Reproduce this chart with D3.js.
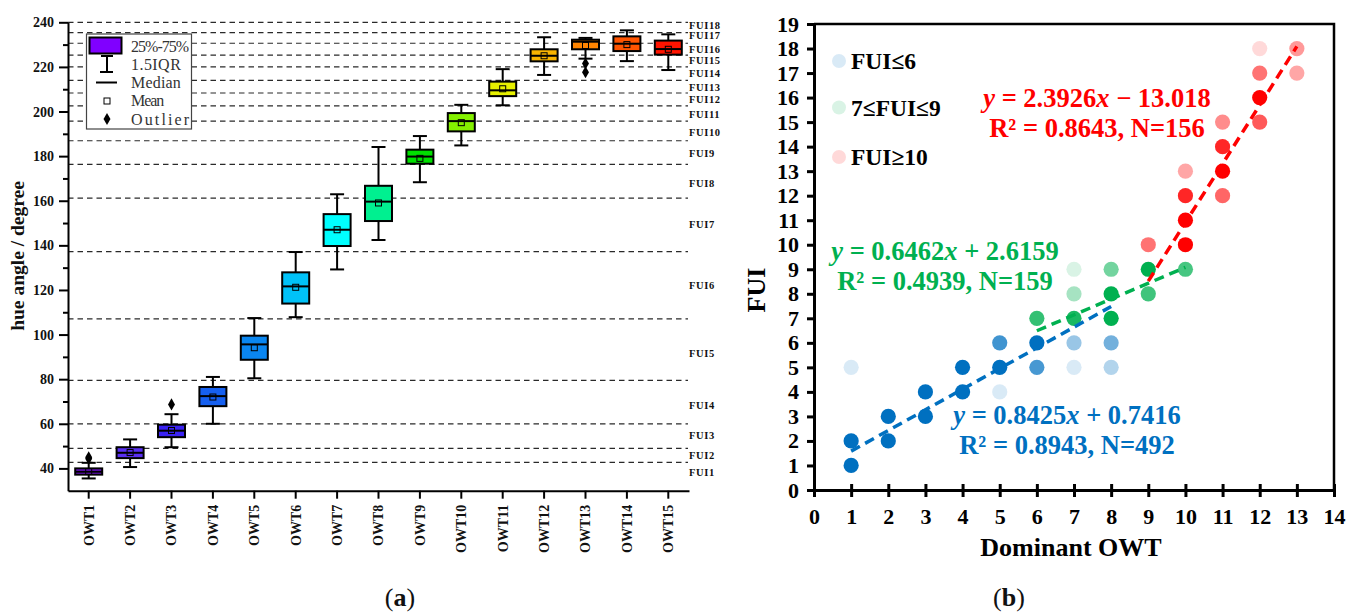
<!DOCTYPE html>
<html>
<head>
<meta charset="utf-8">
<script src="https://cdn.jsdelivr.net/npm/d3@7"></script>
<style>
  html, body { margin: 0; padding: 0; background: #fff; }
  svg { display: block; }
  text { font-family: "Liberation Serif", "Times New Roman", serif; }
</style>
</head>
<body>
<svg id="chart" width="1359" height="614"></svg>
<script>
// ---------- (a) hue angle by optical water type ----------
const owtTypes = ["OWT1","OWT2","OWT3","OWT4","OWT5","OWT6","OWT7","OWT8","OWT9","OWT10","OWT11","OWT12","OWT13","OWT14","OWT15"];
const whiskerLow  = [35.5, 40.6, 49.5, 60.0, 80.4, 107.8, 129.2, 142.4, 168.3, 184.8, 202.8, 216.4, 223.7, 222.6, 218.6];
const q1          = [37.2, 44.6, 54.0, 67.9, 88.7, 113.9, 139.7, 150.9, 176.6, 191.1, 206.9, 222.5, 227.9, 227.1, 225.5];
const medians     = [38.5, 47.0, 56.9, 72.4, 95.6, 121.6, 147.0, 159.6, 179.8, 195.7, 209.5, 225.0, 231.3, 230.4, 228.0];
const q3          = [40.0, 49.5, 59.6, 76.5, 99.5, 127.9, 154.0, 166.7, 182.9, 199.3, 213.4, 227.9, 232.2, 233.7, 231.8];
const whiskerHigh = [42.5, 53.0, 64.3, 81.0, 107.4, 137.0, 162.9, 184.1, 189.0, 203.0, 219.0, 233.3, 233.0, 236.4, 234.6];
const means       = [38.6, 47.1, 57.0, 72.0, 94.1, 121.2, 147.0, 159.0, 179.0, 195.0, 210.2, 225.0, 229.6, 230.0, 227.9];
const outliers    = [[44.3, 45.0], [], [68.7], [], [], [], [], [], [], [], [], [], [221.5, 217.6], [], []];
const boxColors   = ["#7412de","#5a2ff2","#3a22f2","#1660f0","#0a86f0","#00c2f8","#00ffff","#00f090","#00e000","#84f000","#e6f000","#f8b400","#ff8400","#ff5400","#ff1400"];

// FUI class boundaries (hue angle) and label positions
const fuiBounds   = [42.7, 49.0, 60.0, 79.5, 107.0, 137.2, 161.2, 176.3, 186.9, 195.7, 202.5, 208.3, 214.0, 220.0, 225.3, 230.6, 235.4, 240.0];
const fuiLabels   = ["FUI1","FUI2","FUI3","FUI4","FUI5","FUI6","FUI7","FUI8","FUI9","FUI10","FUI11","FUI12","FUI13","FUI14","FUI15","FUI16","FUI17","FUI18"];
const fuiLabelHue = [38.2, 45.8, 54.8, 68.3, 91.6, 122.1, 149.4, 167.8, 181.3, 190.7, 198.7, 205.5, 210.9, 217.1, 223.0, 227.9, 234.2, 238.7];

const hueTicks = [40, 60, 80, 100, 120, 140, 160, 180, 200, 220, 240];
const hueMinorTicks = [50, 70, 90, 110, 130, 150, 170, 190, 210, 230];

// ---------- (b) FUI vs dominant OWT ----------
const blueX = [1, 1, 1, 2, 2, 3, 3, 4, 4, 5, 5, 5, 6, 6, 7, 7, 8, 8];
const blueY = [1, 2, 5, 2, 3, 3, 4, 4, 5, 4, 5, 6, 5, 6, 5, 6, 5, 6];
const blueA = [1, 1, 0.15, 1, 1, 1, 1, 1, 1, 0.15, 1, 0.75, 0.72, 1, 0.15, 0.4, 0.3, 0.55];

const greenX = [6, 7, 7, 7, 8, 8, 8, 9, 9, 10];
const greenY = [7, 7, 8, 9, 7, 8, 9, 8, 9, 9];
const greenA = [0.8, 0.9, 0.35, 0.15, 1, 1, 0.55, 0.75, 1, 0.72];

const redX = [9, 10, 10, 10, 10, 11, 11, 11, 11, 12, 12, 12, 12, 13, 13];
const redY = [10, 10, 11, 12, 13, 12, 13, 14, 15, 15, 16, 17, 18, 17, 18];
const redA = [0.55, 1, 1, 0.85, 0.35, 0.6, 1, 0.85, 0.45, 0.65, 1, 0.55, 0.15, 0.35, 0.4];

// regression fits: slope, intercept, x-range
const fitBlue  = { slope: 0.8425, intercept: 0.7416,  x0: 1, x1: 8 };
const fitGreen = { slope: 0.6462, intercept: 2.6159,  x0: 6, x1: 10 };
const fitRed   = { slope: 2.3926, intercept: -13.018, x0: 9, x1: 13 };

const fuiTicks = d3.range(0, 20);
const owtTicks = d3.range(0, 15);

const BLUE = "#0070C0", GREEN = "#00B050", RED = "#FF0000";

const svg = d3.select("#chart");

// =============== panel (a) ===============
const A = { left: 68, right: 689, top: 22.3, bottom: 490.7 };
const yA = d3.scaleLinear().domain([30, 240]).range([A.bottom, A.top]);
const xA = d3.scaleBand().domain(owtTypes).range([A.left, A.right]);
const cx = d => xA(d) + xA.bandwidth() / 2;
const boxW = 27, capW = 14;

const gA = svg.append("g");

// FUI boundary lines
gA.append("g").selectAll("line").data(fuiBounds).join("line")
  .attr("x1", A.left).attr("x2", 688)
  .attr("y1", d => yA(d)).attr("y2", d => yA(d))
  .attr("stroke", "#2a2a2a").attr("stroke-width", 1.2)
  .attr("stroke-dasharray", "5.5,4");

// FUI labels
gA.append("g").selectAll("text").data(fuiLabels).join("text")
  .attr("x", 689).attr("y", (d, i) => yA(fuiLabelHue[i]))
  .attr("dy", "0.35em")
  .attr("font-size", 10.5).attr("font-weight", "bold").attr("fill", "#111")
  .attr("letter-spacing", 0.6)
  .text(d => d);

// axes
const yAxisA = gA.append("g").attr("transform", `translate(${A.left},0)`)
  .call(d3.axisLeft(yA).tickValues(hueTicks).tickSize(9).tickSizeOuter(0).tickPadding(5));
gA.append("g").attr("transform", `translate(${A.left},0)`)
  .call(d3.axisLeft(yA).tickValues(hueMinorTicks).tickSize(5).tickSizeOuter(0).tickFormat(""))
  .call(g => g.select(".domain").remove());
yAxisA.selectAll("text").attr("font-size", 14).attr("font-weight", "bold")
  .attr("font-family", "Liberation Serif, serif").attr("fill", "#111");

const xAxisA = gA.append("g").attr("transform", `translate(0,${A.bottom})`)
  .call(d3.axisBottom(xA).tickSize(8).tickSizeOuter(0));
xAxisA.selectAll("text")
  .attr("transform", "rotate(-90)")
  .attr("x", -14).attr("y", 0).attr("dy", "0.35em")
  .style("text-anchor", "end")
  .attr("font-size", 14).attr("font-weight", "bold")
  .attr("font-family", "Liberation Serif, serif").attr("fill", "#111");

gA.selectAll(".domain, .tick line").attr("stroke", "#000").attr("stroke-width", 2);

// y-axis title
gA.append("text")
  .attr("transform", `translate(24,256) rotate(-90)`)
  .attr("text-anchor", "middle")
  .attr("font-size", 19.5).attr("font-weight", "bold").attr("fill", "#111")
  .text("hue angle / degree");

// boxes
const boxes = gA.append("g").selectAll("g").data(owtTypes).join("g");
boxes.append("line") // whisker stem
  .attr("x1", cx).attr("x2", cx)
  .attr("y1", (d, i) => yA(whiskerLow[i])).attr("y2", (d, i) => yA(whiskerHigh[i]))
  .attr("stroke", "#000").attr("stroke-width", 2);
boxes.append("line")
  .attr("x1", d => cx(d) - capW / 2).attr("x2", d => cx(d) + capW / 2)
  .attr("y1", (d, i) => yA(whiskerLow[i])).attr("y2", (d, i) => yA(whiskerLow[i]))
  .attr("stroke", "#000").attr("stroke-width", 2);
boxes.append("line")
  .attr("x1", d => cx(d) - capW / 2).attr("x2", d => cx(d) + capW / 2)
  .attr("y1", (d, i) => yA(whiskerHigh[i])).attr("y2", (d, i) => yA(whiskerHigh[i]))
  .attr("stroke", "#000").attr("stroke-width", 2);
boxes.append("rect")
  .attr("x", d => cx(d) - boxW / 2).attr("width", boxW)
  .attr("y", (d, i) => yA(q3[i])).attr("height", (d, i) => yA(q1[i]) - yA(q3[i]))
  .attr("fill", (d, i) => boxColors[i]).attr("stroke", "#000").attr("stroke-width", 2);
boxes.append("line")
  .attr("x1", d => cx(d) - boxW / 2).attr("x2", d => cx(d) + boxW / 2)
  .attr("y1", (d, i) => yA(medians[i])).attr("y2", (d, i) => yA(medians[i]))
  .attr("stroke", "#000").attr("stroke-width", 2);
boxes.append("rect")
  .attr("x", d => cx(d) - 3).attr("y", (d, i) => yA(means[i]) - 3)
  .attr("width", 6).attr("height", 6)
  .attr("fill", "none").attr("stroke", "#000").attr("stroke-width", 1);
boxes.each(function (d, i) {
  d3.select(this).selectAll("path.out").data(outliers[i]).join("path")
    .attr("class", "out")
    .attr("d", d3.symbol(d3.symbolDiamond, 42))
    .attr("transform", v => `translate(${cx(d)},${yA(v)})`)
    .attr("fill", "#000");
});

// legend (a)
const lg = gA.append("g");
lg.append("rect").attr("x", 86.5).attr("y", 34).attr("width", 105).attr("height", 95)
  .attr("fill", "#fff").attr("stroke", "#444").attr("stroke-width", 1.2);
lg.append("rect").attr("x", 89.5).attr("y", 37.5).attr("width", 32).attr("height", 16)
  .attr("fill", "#8000ff").attr("stroke", "#000").attr("stroke-width", 2);
lg.append("line").attr("x1", 107).attr("x2", 107).attr("y1", 56).attr("y2", 72).attr("stroke", "#000").attr("stroke-width", 2);
lg.append("line").attr("x1", 101).attr("x2", 113).attr("y1", 56).attr("y2", 56).attr("stroke", "#000").attr("stroke-width", 2);
lg.append("line").attr("x1", 100).attr("x2", 113).attr("y1", 72).attr("y2", 72).attr("stroke", "#000").attr("stroke-width", 2);
lg.append("line").attr("x1", 96).attr("x2", 117).attr("y1", 82.5).attr("y2", 82.5).attr("stroke", "#000").attr("stroke-width", 2);
lg.append("rect").attr("x", 104).attr("y", 98).attr("width", 6).attr("height", 6)
  .attr("fill", "#fff").attr("stroke", "#000").attr("stroke-width", 1);
lg.append("path").attr("d", d3.symbol(d3.symbolDiamond, 42)).attr("transform", "translate(107,119)").attr("fill", "#000");
const legTexts = ["25%-75%", "1.5IQR", "Median", "Mean", "Outlier"];
const legY = [46, 64.5, 82.5, 100.5, 119];
lg.selectAll("text.lt").data(legTexts).join("text").attr("class", "lt")
  .attr("x", 131).attr("y", (d, i) => legY[i]).attr("dy", "0.35em")
  .attr("font-size", 16).attr("fill", "#333")
  .attr("textLength", d => d.length * 8.3).attr("lengthAdjust", "spacing")
  .text(d => d);

// caption (a)
const capA = svg.append("text").attr("x", 400).attr("y", 606).attr("text-anchor", "middle")
  .attr("font-size", 26).attr("fill", "#111");
capA.append("tspan").text("(");
capA.append("tspan").attr("font-weight", "bold").text("a");
capA.append("tspan").text(")");

// =============== panel (b) ===============
const B = { left: 814, right: 1334, top: 24, bottom: 490 };
const xB = d3.scaleLinear().domain([0, 14]).range([B.left, B.right]);
const yB = d3.scaleLinear().domain([0, 19]).range([B.bottom, B.top]);
const gB = svg.append("g");

// frame (top and right)
gB.append("path")
  .attr("d", `M${xB(0)},${yB(19)}H${xB(14)}V${yB(0)}`)
  .attr("fill", "none").attr("stroke", "#000").attr("stroke-width", 2.5);

const yAxisB = gB.append("g").attr("transform", `translate(${B.left},0)`)
  .call(d3.axisLeft(yB).tickValues(fuiTicks).tickFormat(d3.format("d")).tickSize(7).tickSizeOuter(0).tickPadding(8));
const xAxisB = gB.append("g").attr("transform", `translate(0,${B.bottom})`)
  .call(d3.axisBottom(xB).tickValues(owtTicks).tickFormat(d3.format("d")).tickSize(7).tickSizeOuter(0).tickPadding(11));
xAxisB.selectAll(".tick line").attr("y1", -6);
gB.selectAll(".domain, .tick line").attr("stroke", "#000").attr("stroke-width", 3);
gB.selectAll(".tick text").attr("font-size", 22).attr("font-weight", "bold")
  .attr("font-family", "Liberation Serif, serif").attr("fill", "#000");

// axis titles
gB.append("text").attr("x", 1071).attr("y", 556).attr("text-anchor", "middle")
  .attr("font-size", 26).attr("font-weight", "bold").attr("fill", "#000").text("Dominant OWT");
gB.append("text").attr("transform", "translate(765,290) rotate(-90)").attr("text-anchor", "middle")
  .attr("font-size", 26).attr("font-weight", "bold").attr("fill", "#000").text("FUI");

// regression lines
const fits = [[fitBlue, BLUE], [fitGreen, GREEN], [fitRed, RED]];

// points
function drawPoints(xs, ys, as, color) {
  gB.append("g").selectAll("circle").data(xs).join("circle")
    .attr("cx", d => xB(d)).attr("cy", (d, i) => yB(ys[i])).attr("r", 7.6)
    .attr("fill", color).attr("fill-opacity", (d, i) => as[i]);
}
drawPoints(blueX, blueY, blueA, BLUE);
drawPoints(greenX, greenY, greenA, GREEN);
drawPoints(redX, redY, redA, RED);

gB.append("g").selectAll("line").data(fits).join("line")
  .attr("x1", d => xB(d[0].x0)).attr("y1", d => yB(d[0].slope * d[0].x0 + d[0].intercept))
  .attr("x2", d => xB(d[0].x1)).attr("y2", d => yB(d[0].slope * d[0].x1 + d[0].intercept))
  .attr("stroke", d => d[1]).attr("stroke-width", 3.5).attr("stroke-dasharray", "10,6");

// legend (b)
const legB = [["FUI≤6", BLUE, 61], ["7≤FUI≤9", GREEN, 107.5], ["FUI≥10", RED, 157]];
const lgB = gB.append("g");
lgB.selectAll("circle").data(legB).join("circle")
  .attr("cx", 839).attr("cy", d => d[2]).attr("r", 7)
  .attr("fill", d => d[1]).attr("fill-opacity", 0.15);
lgB.selectAll("text").data(legB).join("text")
  .attr("x", 851).attr("y", d => d[2]).attr("dy", "0.35em")
  .attr("font-size", 23.5).attr("font-weight", "bold").attr("fill", "#000")
  .text(d => d[0]);

// equation labels
function equation(cxp, cy, color, slope, intercept, r2, n) {
  const t1 = gB.append("text").attr("x", cxp).attr("y", cy).attr("dy", "0.35em")
    .attr("text-anchor", "middle").attr("font-size", 26.5).attr("font-weight", "bold").attr("fill", color);
  t1.append("tspan").attr("font-style", "italic").text("y");
  t1.append("tspan").text(` = ${slope}`);
  t1.append("tspan").attr("font-style", "italic").text("x");
  t1.append("tspan").text(intercept < 0 ? ` − ${Math.abs(intercept)}` : ` + ${intercept}`);
  gB.append("text").attr("x", cxp).attr("y", cy + 30).attr("dy", "0.35em")
    .attr("text-anchor", "middle").attr("font-size", 26.5).attr("font-weight", "bold").attr("fill", color)
    .text(`R² = ${r2}, N=${n}`);
}
equation(1097, 98, RED, "2.3926", -13.018, "0.8643", 156);
equation(945, 251, GREEN, "0.6462", 2.6159, "0.4939", 159);
equation(1067, 415, BLUE, "0.8425", 0.7416, "0.8943", 492);

// caption (b)
const capB = svg.append("text").attr("x", 1009).attr("y", 606).attr("text-anchor", "middle")
  .attr("font-size", 26).attr("fill", "#111");
capB.append("tspan").text("(");
capB.append("tspan").attr("font-weight", "bold").text("b");
capB.append("tspan").text(")");
</script>
</body>
</html>
